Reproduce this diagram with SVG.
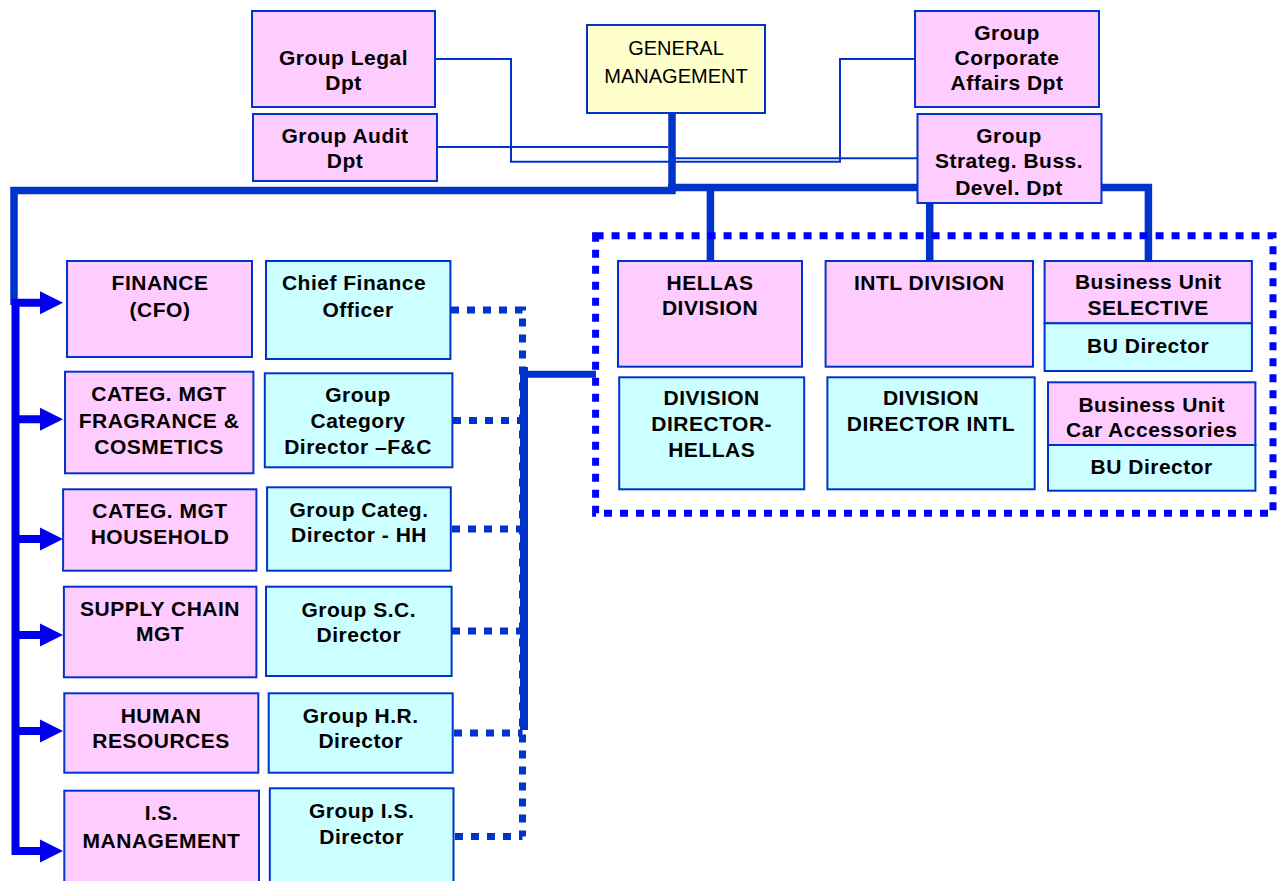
<svg xmlns="http://www.w3.org/2000/svg" width="1279" height="881" viewBox="0 0 1279 881">
  <style>
    .pink { fill: #FFCCFF; stroke: #0033CC; stroke-width: 2; }
    .cyan { fill: #CCFFFF; stroke: #0033CC; stroke-width: 2; }
    .yellow { fill: #FFFFCC; stroke: #0033CC; stroke-width: 2; }
    .lbl { font-family: "Liberation Sans", Arial, sans-serif; font-weight: bold; font-size: 21px; letter-spacing: 0.5px; fill: #000; text-anchor: middle; }
    .reg { font-family: "Liberation Sans", Arial, sans-serif; font-weight: normal; font-size: 20px; fill: #000; text-anchor: middle; }
    .thin { fill: none; stroke: #0033CC; stroke-width: 2; }
    .thick { fill: none; stroke: #0033CC; stroke-width: 7.5; }
    .bright { fill: none; stroke: #0000EE; stroke-width: 8; }
    .dots { fill: none; stroke: #0033CC; stroke-width: 7; stroke-dasharray: 8 8; }
    .frame { fill: none; stroke: #0000FF; stroke-width: 7; stroke-dasharray: 8 8; }
  </style>
  <defs>
    <polygon id="head" points="0,-11.5 23,0 0,11.5" fill="#0000EE"/>
    <clipPath id="clipStrateg">
      <rect x="917" y="114" width="185" height="82"/>
    </clipPath>
  </defs>

  <rect x="0" y="0" width="1279" height="881" fill="#FFFFFF"/>

  <!-- connectors -->
  <g id="connectors">
    <!-- staff departments -->
    <path class="thin" d="M435 59 H511 V161.7 H840 V59 H916"/>
    <path class="thin" d="M437 147 H668"/>
    <path class="thin" d="M675 158.3 H918"/>
    <!-- main reporting lines -->
    <path class="thick" d="M672 107 V194"/>
    <path class="thick" d="M675 190.5 H14 V305"/>
    <path class="thick" d="M668 187.5 H1148.4 V261"/>
    <path class="thick" d="M710.4 187.5 V261"/>
    <path class="thick" d="M929.7 202 V261"/>
    <!-- functional directors bus -->
    <path class="dots" d="M451 310 H522.5 V836.5"/>
    <path class="dots" d="M453 420.5 H522.5"/>
    <path class="dots" d="M452 529 H522.5"/>
    <path class="dots" d="M452 631 H522.5"/>
    <path class="dots" d="M454 733 H522.5"/>
    <path class="dots" d="M455 836.5 H522.5"/>
    <path class="thick" style="stroke-width:8" d="M524 367 V730"/>
    <path class="thick" style="stroke-width:7" d="M520 374.2 H596"/>
    <!-- functions spine with arrows -->
    <path class="bright" d="M15.5 299 V855"/>
    <path class="bright" d="M15.5 302.7 H42 M15.5 419.3 H42 M15.5 539 H42 M15.5 635 H42 M15.5 731 H42 M15.5 851 H42"/>
    <use href="#head" x="40" y="302.7"/>
    <use href="#head" x="40" y="419.3"/>
    <use href="#head" x="40" y="539"/>
    <use href="#head" x="40" y="635"/>
    <use href="#head" x="40" y="731"/>
    <use href="#head" x="40" y="851"/>
  </g>

  <!-- divisions frame -->
  <g id="division-frame">
    <rect class="frame" x="595.6" y="235.7" width="677.4" height="277.6"/>
  </g>

  <!-- top level -->
  <g id="legal">
    <rect class="pink" x="252" y="11" width="183" height="96"/>
    <text class="lbl" x="343.5" y="65">Group Legal</text>
    <text class="lbl" x="343.5" y="90">Dpt</text>
  </g>
  <g id="audit">
    <rect class="pink" x="253" y="114" width="184" height="67"/>
    <text class="lbl" x="345" y="142.7">Group Audit</text>
    <text class="lbl" x="345" y="168">Dpt</text>
  </g>
  <g id="general-management">
    <rect class="yellow" x="587" y="25" width="178" height="88"/>
    <text class="reg" x="676" y="55">GENERAL</text>
    <text class="reg" x="676" y="82.7">MANAGEMENT</text>
  </g>
  <g id="corporate-affairs">
    <rect class="pink" x="915" y="11" width="184" height="96"/>
    <text class="lbl" x="1007" y="40">Group</text>
    <text class="lbl" x="1007" y="65">Corporate</text>
    <text class="lbl" x="1007" y="90">Affairs Dpt</text>
  </g>
  <g id="strategic-development">
    <rect class="pink" x="917.5" y="114" width="184" height="89"/>
    <g clip-path="url(#clipStrateg)">
      <text class="lbl" x="1009" y="143.3">Group</text>
      <text class="lbl" x="1009" y="168.3">Strateg. Buss.</text>
      <text class="lbl" x="1009" y="195">Devel. Dpt</text>
    </g>
  </g>

  <!-- functions -->
  <g id="finance">
    <rect class="pink" x="67" y="261" width="185" height="96"/>
    <text class="lbl" x="160" y="290">FINANCE</text>
    <text class="lbl" x="160" y="316.7">(CFO)</text>
  </g>
  <g id="cfo">
    <rect class="cyan" x="266" y="261" width="184.4" height="98"/>
    <text class="lbl" x="354" y="290">Chief Finance</text>
    <text class="lbl" x="358" y="316.7">Officer</text>
  </g>
  <g id="fragrance-cosmetics">
    <rect class="pink" x="65" y="371.7" width="188.4" height="101.6"/>
    <text class="lbl" x="159" y="401">CATEG. MGT</text>
    <text class="lbl" x="159" y="428.3">FRAGRANCE &amp;</text>
    <text class="lbl" x="159" y="454.3">COSMETICS</text>
  </g>
  <g id="category-director-fc">
    <rect class="cyan" x="264.8" y="373.3" width="187.6" height="94"/>
    <text class="lbl" x="358" y="401.5">Group</text>
    <text class="lbl" x="358" y="428">Category</text>
    <text class="lbl" x="358" y="454">Director –F&amp;C</text>
  </g>
  <g id="household">
    <rect class="pink" x="63.1" y="489.3" width="193.3" height="81.4"/>
    <text class="lbl" x="160" y="518.3">CATEG. MGT</text>
    <text class="lbl" x="160" y="543.5">HOUSEHOLD</text>
  </g>
  <g id="category-director-hh">
    <rect class="cyan" x="267.1" y="487.3" width="183.7" height="83.4"/>
    <text class="lbl" x="359" y="517">Group Categ.</text>
    <text class="lbl" x="359" y="542">Director - HH</text>
  </g>
  <g id="supply-chain">
    <rect class="pink" x="63.9" y="586.7" width="192.5" height="90.6"/>
    <text class="lbl" x="160" y="616">SUPPLY CHAIN</text>
    <text class="lbl" x="160" y="641">MGT</text>
  </g>
  <g id="sc-director">
    <rect class="cyan" x="266" y="586.7" width="185.6" height="89.3"/>
    <text class="lbl" x="358.8" y="616.7">Group S.C.</text>
    <text class="lbl" x="358.8" y="641.7">Director</text>
  </g>
  <g id="human-resources">
    <rect class="pink" x="64.3" y="693.3" width="194" height="79.4"/>
    <text class="lbl" x="161" y="722.7">HUMAN</text>
    <text class="lbl" x="161" y="748.3">RESOURCES</text>
  </g>
  <g id="hr-director">
    <rect class="cyan" x="268.7" y="693.3" width="184" height="79.4"/>
    <text class="lbl" x="360.7" y="723.3">Group H.R.</text>
    <text class="lbl" x="360.7" y="748.3">Director</text>
  </g>
  <g id="is-management">
    <rect class="pink" x="64.3" y="790.7" width="194.7" height="100"/>
    <text class="lbl" x="161.5" y="820">I.S.</text>
    <text class="lbl" x="161.5" y="848.3">MANAGEMENT</text>
  </g>
  <g id="is-director">
    <rect class="cyan" x="269.8" y="788.3" width="183.7" height="100"/>
    <text class="lbl" x="361.6" y="818.3">Group I.S.</text>
    <text class="lbl" x="361.6" y="844.3">Director</text>
  </g>

  <!-- divisions and business units -->
  <g id="hellas-division">
    <rect class="pink" x="618" y="261" width="184" height="105.7"/>
    <text class="lbl" x="710" y="290">HELLAS</text>
    <text class="lbl" x="710" y="315">DIVISION</text>
  </g>
  <g id="hellas-director">
    <rect class="cyan" x="619.2" y="377.3" width="185" height="112"/>
    <text class="lbl" x="711.7" y="405">DIVISION</text>
    <text class="lbl" x="711.7" y="430.7">DIRECTOR-</text>
    <text class="lbl" x="711.7" y="457.3">HELLAS</text>
  </g>
  <g id="intl-division">
    <rect class="pink" x="825.6" y="261" width="207.4" height="105.7"/>
    <text class="lbl" x="929.3" y="290">INTL DIVISION</text>
  </g>
  <g id="intl-director">
    <rect class="cyan" x="827.4" y="377.3" width="207.3" height="112"/>
    <text class="lbl" x="931" y="405">DIVISION</text>
    <text class="lbl" x="931" y="431">DIRECTOR INTL</text>
  </g>
  <g id="bu-selective">
    <rect class="pink" x="1044.6" y="261" width="207.3" height="62.3"/>
    <rect class="cyan" x="1044.6" y="323.3" width="207.3" height="47.7"/>
    <text class="lbl" x="1148.2" y="289.3">Business Unit</text>
    <text class="lbl" x="1148.2" y="315">SELECTIVE</text>
    <text class="lbl" x="1148.2" y="352.7">BU Director</text>
  </g>
  <g id="bu-car-accessories">
    <rect class="pink" x="1048" y="382.3" width="207.4" height="62.7"/>
    <rect class="cyan" x="1048" y="445" width="207.4" height="45.7"/>
    <text class="lbl" x="1151.7" y="411.7">Business Unit</text>
    <text class="lbl" x="1151.7" y="436.7">Car Accessories</text>
    <text class="lbl" x="1151.7" y="474">BU Director</text>
  </g>
</svg>
